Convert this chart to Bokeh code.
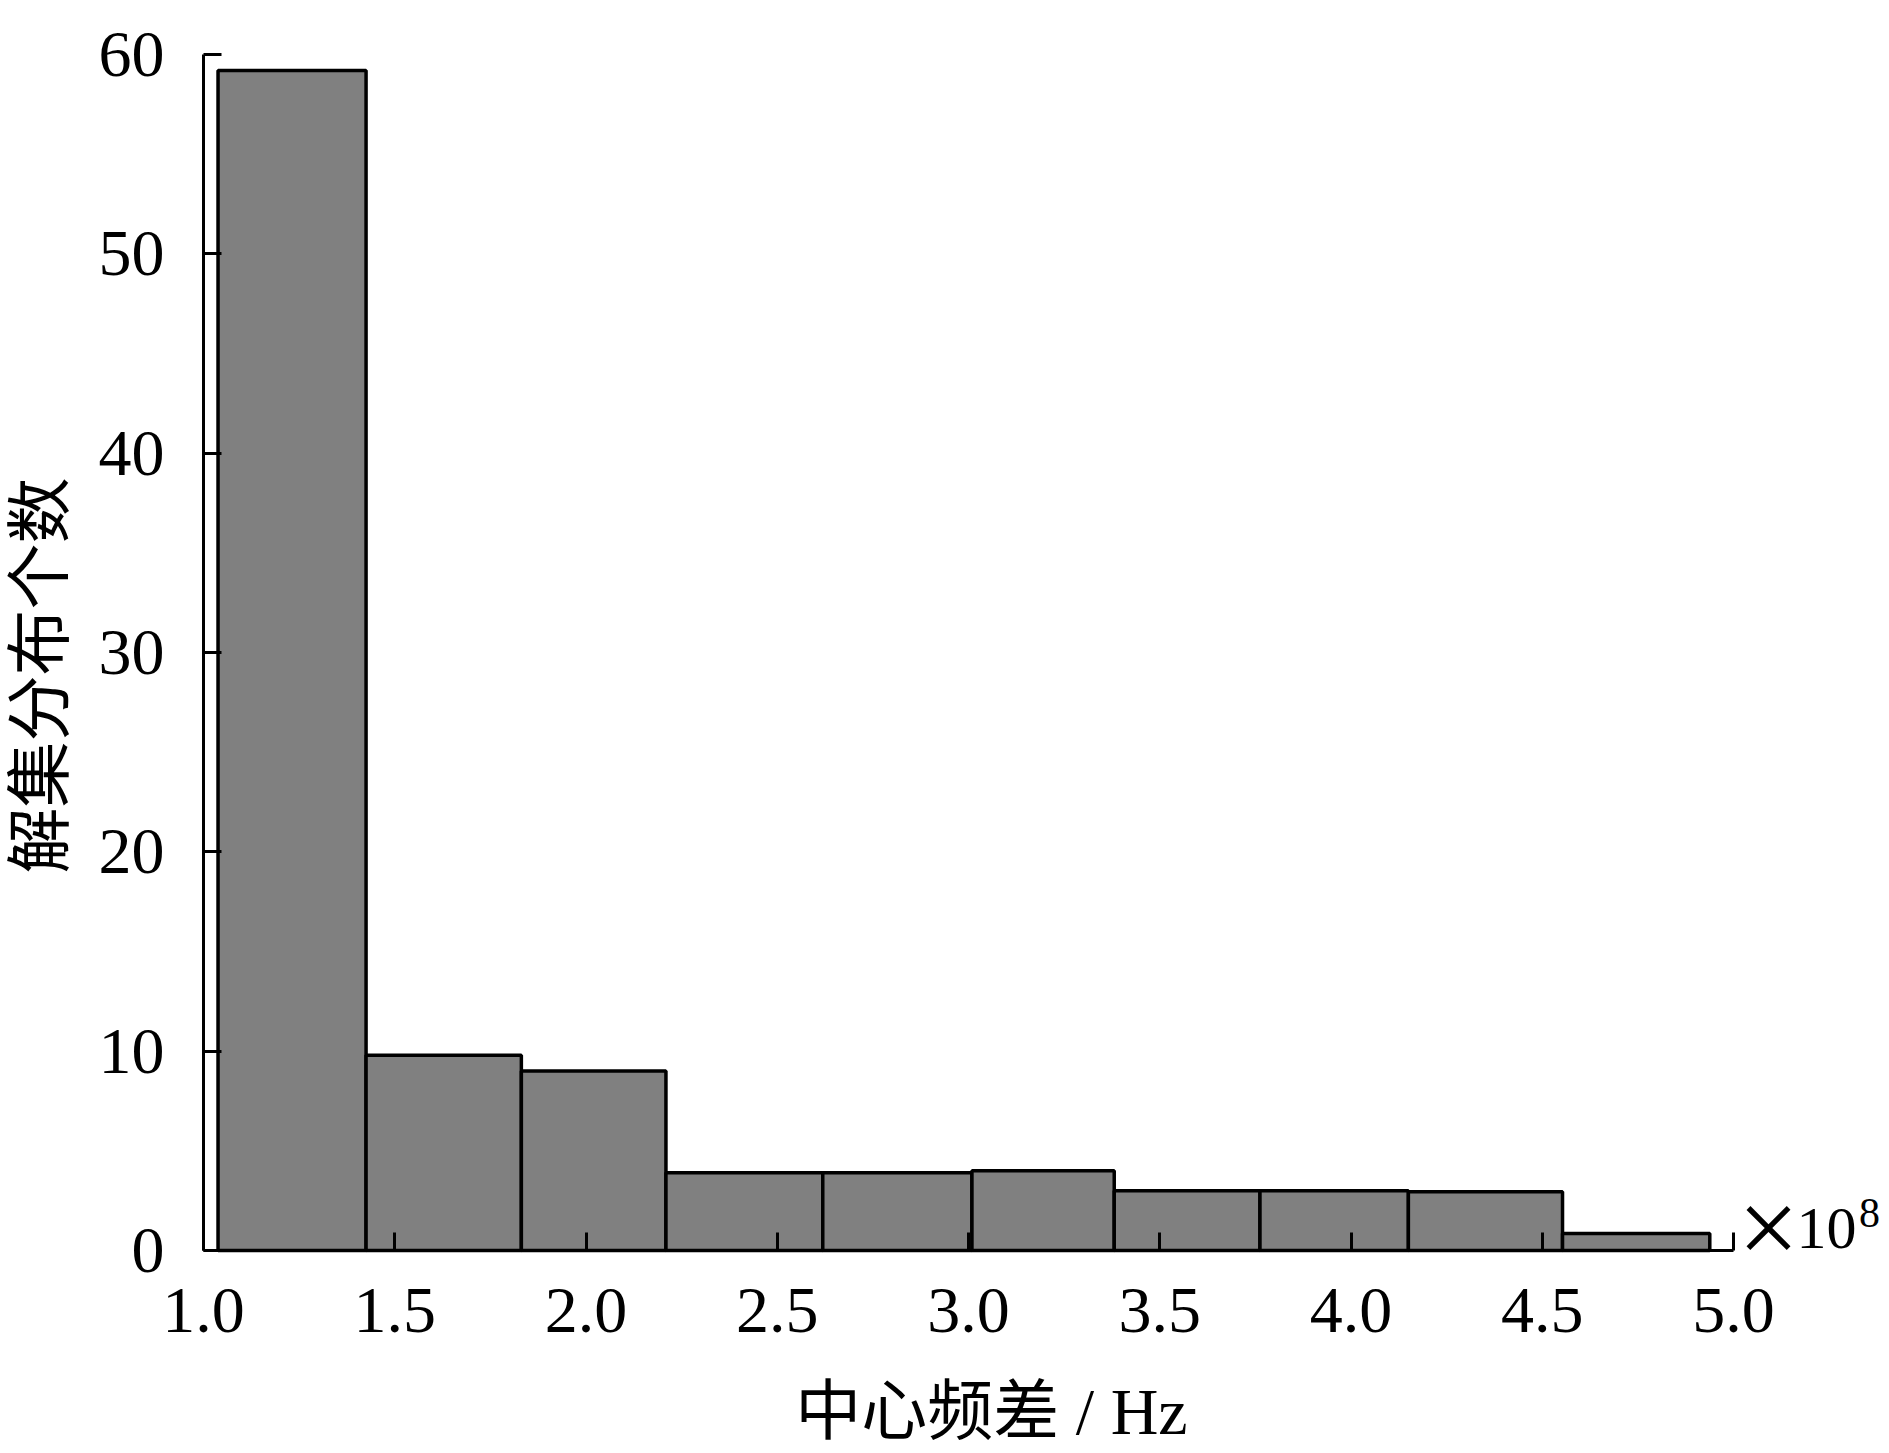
import math
from bokeh.plotting import figure
from bokeh.models import Range1d, Label, FixedTicker
from bokeh.embed import file_html
from bokeh.resources import INLINE

# ---- data ----
bin_edges = [1.038, 1.425, 1.831, 2.209, 2.619, 3.009, 3.381, 3.762, 4.150, 4.553, 4.938]
counts = [59.2, 9.8, 9.0, 3.9, 3.9, 4.0, 3.0, 3.0, 2.95, 0.85]
x_ticks = [1.0, 1.5, 2.0, 2.5, 3.0, 3.5, 4.0, 4.5, 5.0]
x_tick_labels = ["1.0", "1.5", "2.0", "2.5", "3.0", "3.5", "4.0", "4.5", "5.0"]
y_ticks = [0, 10, 20, 30, 40, 50, 60]
x_title = "中心频差 / Hz"
y_title = "解集分布个数"
scale_times = "×"
scale_base = "10"
scale_exp = "8"

SERIF = "Liberation Serif"
MIXED = "Liberation Serif, Noto Sans CJK SC"

# ---- layout (pixels of the page) ----
W, H = 1889, 1453
LEFT, RIGHT, TOP, BOTTOM = 203, 1733, 54, 1250   # where x=1..5 and y=0..60 sit
x_min, x_max = 1.0, 5.0
y_min, y_max = 0.0, 60.0
px_x = (RIGHT - LEFT) / (x_max - x_min)
px_y = (BOTTOM - TOP) / (y_max - y_min)


def dx(px):
    return x_min + (px - LEFT) / px_x


def dy(py):
    return y_min + (BOTTOM - py) / px_y


p = figure(width=W, height=H, output_backend="svg", toolbar_location=None,
           x_range=Range1d(dx(0), dx(W)), y_range=Range1d(dy(H), dy(0)),
           min_border=0, min_border_left=0, min_border_right=0,
           min_border_top=0, min_border_bottom=0)
p.outline_line_color = None
p.xgrid.visible = False
p.ygrid.visible = False
p.background_fill_color = "white"
p.border_fill_color = "white"

p.quad(left=bin_edges[:-1], right=bin_edges[1:], top=counts, bottom=0,
       fill_color="#808080", line_color="black", line_width=3.5)

for ax in (p.xaxis[0], p.yaxis[0]):
    ax.axis_line_width = 3
    ax.axis_line_color = "black"
    ax.major_tick_line_width = 3
    ax.major_tick_in = 18
    ax.major_tick_out = 0
    ax.minor_tick_line_color = None
    ax.major_label_text_font = SERIF
    ax.major_label_text_font_size = "66px"
    ax.major_label_text_color = "black"

p.xaxis[0].fixed_location = y_min
p.xaxis[0].bounds = (x_min, x_max)
p.xaxis[0].ticker = FixedTicker(ticks=x_ticks)
p.xaxis[0].major_label_overrides = {t: s for t, s in zip(x_ticks, x_tick_labels)}
p.xaxis[0].major_label_standoff = 38

p.yaxis[0].fixed_location = x_min
p.yaxis[0].bounds = (y_min, y_max)
p.yaxis[0].ticker = FixedTicker(ticks=y_ticks)
p.yaxis[0].major_label_standoff = 39

p.add_layout(Label(x=dx(991), y=dy(1411), text=x_title,
                   text_font=MIXED, text_font_size="66px", text_align="center",
                   text_baseline="middle", text_color="black"))
p.add_layout(Label(x=dx(40), y=dy(675), text=y_title, angle=math.pi / 2,
                   text_font=MIXED, text_font_size="66px", text_align="center",
                   text_baseline="middle", text_color="black"))

p.add_layout(Label(x=dx(1768), y=dy(1227), text=scale_times,
                   text_font=SERIF, text_font_size="108px", text_baseline="middle",
                   text_align="center", text_color="black"))
p.add_layout(Label(x=dx(1826), y=dy(1228), text=scale_base,
                   text_font=SERIF, text_font_size="60px", text_baseline="middle",
                   text_align="center", text_color="black"))
p.add_layout(Label(x=dx(1869), y=dy(1212), text=scale_exp,
                   text_font=SERIF, text_font_size="42px", text_baseline="middle",
                   text_align="center", text_color="black"))

open("out.html", "w").write(file_html(p, INLINE))
